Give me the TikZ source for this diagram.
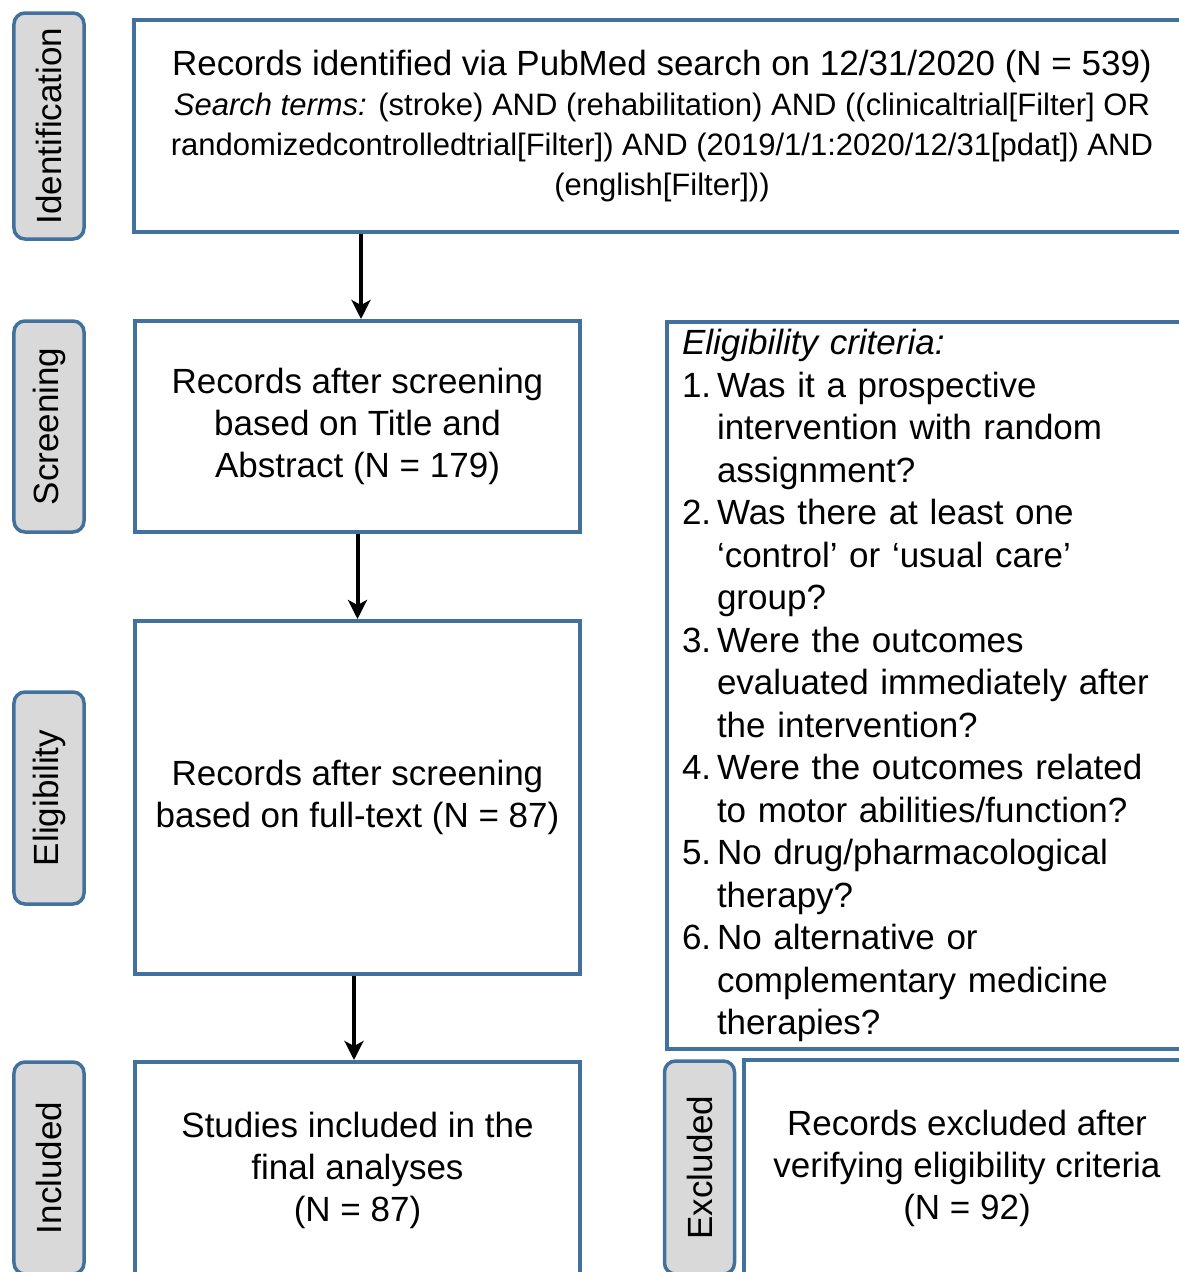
\documentclass[tikz,border=0pt]{standalone}
\usepackage{fontspec}
\setmainfont{Liberation Sans}
\usetikzlibrary{arrows.meta,calc}
\definecolor{bcol}{HTML}{41719C}
\definecolor{lgrey}{HTML}{D9D9D9}
\begin{document}
\begin{tikzpicture}[x=1bp,y=-1bp,
  box/.style={draw=bcol,line width=4bp,fill=white,inner sep=0pt,align=center,
    font=\fontsize{35bp}{42bp}\selectfont},
  lab/.style={draw=bcol,line width=3.5bp,fill=lgrey,rounded corners=11bp,rotate=90,
    inner sep=0pt,minimum height=70bp,font=\fontsize{35bp}{42bp}\selectfont},
  arr/.style={line width=4bp,-{Stealth[width=19bp,length=19bp,inset=5bp]}}]
\useasboundingbox (0,0) rectangle (1179,1272);
\begin{scope}
\clip (0,0) rectangle (1179,1272);
% labels
\node[lab, minimum width=226bp] (l1) at (49,126) {Identification};
\node[lab, minimum width=211bp] (l2) at (49,426.5) {Screening};
\node[lab, minimum width=212bp] (l3) at (49,798) {Eligibility};
\node[lab, minimum width=212bp] (l4) at (49,1168) {Included};
\node[lab, minimum width=213bp] (l5) at (699.5,1167.5) {Excluded};
% boxes
\node[box, minimum width=1056bp, minimum height=212bp,
  font=\fontsize{31bp}{40bp}\selectfont] (top) at (662,126)
  {{\fontsize{35bp}{40bp}\selectfont Records identified via PubMed search on 12/31/2020 (N = 539)}\\
   \textit{Search terms:} (stroke) AND (rehabilitation) AND ((clinicaltrial[Filter] OR\\
   randomizedcontrolledtrial[Filter]) AND (2019/1/1:2020/12/31[pdat]) AND\\
   (english[Filter]))};
\node[box, minimum width=445bp, minimum height=211bp] (scr) at (357.5,426.5)
  {Records after screening\\based on Title and\\Abstract (N = 179)};
\node[box, minimum width=445bp, minimum height=353bp] (ft) at (357.5,797.5)
  {Records after screening\\based on full-text (N = 87)};
\node[box, minimum width=445bp, minimum height=216bp] (inc) at (357.5,1170)
  {Studies included in the\\final analyses\\(N = 87)};
\node[box, minimum width=446bp, minimum height=216bp] (exc) at (967,1168)
  {Records excluded after\\verifying eligibility criteria\\(N = 92)};
\node[box, anchor=north west, align=left, text width=500bp, inner xsep=15bp,
  minimum height=727bp, font=\fontsize{35bp}{42.5bp}\selectfont] (crit) at (665,320)
  {\textit{Eligibility criteria:}\\
   \makebox[35bp][l]{1.}Was it a prospective\\
   \hspace*{35bp}intervention with random\\
   \hspace*{35bp}assignment?\\
   \makebox[35bp][l]{2.}Was there at least one\\
   \hspace*{35bp}‘control’ or ‘usual care’\\
   \hspace*{35bp}group?\\
   \makebox[35bp][l]{3.}Were the outcomes\\
   \hspace*{35bp}evaluated immediately after\\
   \hspace*{35bp}the intervention?\\
   \makebox[35bp][l]{4.}Were the outcomes related\\
   \hspace*{35bp}to motor abilities/function?\\
   \makebox[35bp][l]{5.}No drug/pharmacological\\
   \hspace*{35bp}therapy?\\
   \makebox[35bp][l]{6.}No alternative or\\
   \hspace*{35bp}complementary medicine\\
   \hspace*{35bp}therapies?};
% arrows
\coordinate (a1) at ([xshift=3.5bp]scr.north);
\coordinate (a3) at ([xshift=-3.5bp]inc.north);
\draw[arr] (a1 |- top.south) -- (a1);
\draw[arr] (scr.south) -- (ft.north);
\draw[arr] (a3 |- ft.south) -- (a3);
\end{scope}
\end{tikzpicture}
\end{document}
